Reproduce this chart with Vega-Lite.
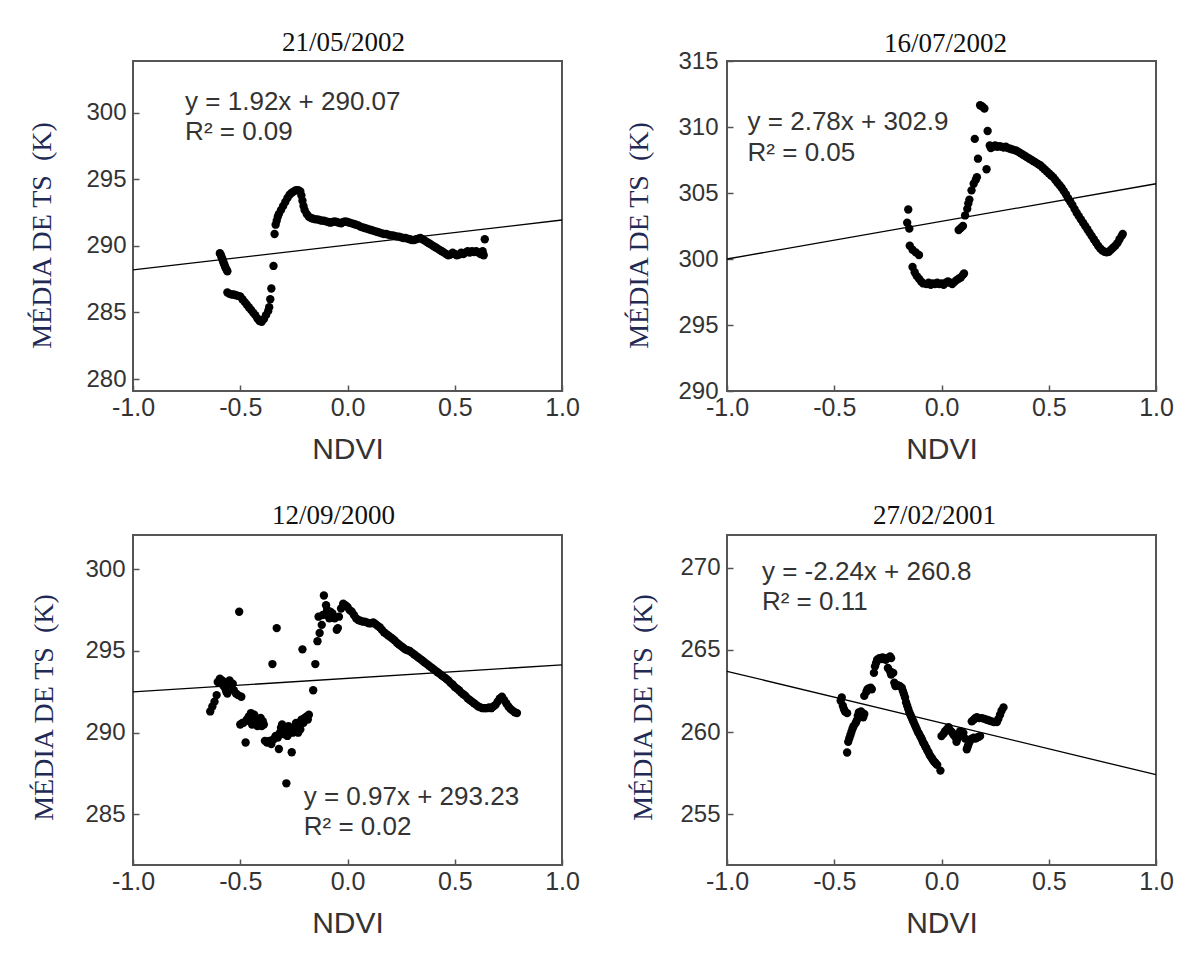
{
"$schema": "https://vega.github.io/schema/vega-lite/v6.json",
"background": "white",
"padding": {"left": 27, "top": 27, "right": 5, "bottom": 5},
"config": {
  "view": {"stroke": "#555", "strokeWidth": 2},
  "axis": {"domain": false, "grid": false, "ticks": true, "tickSize": -6, "tickColor": "#555", "tickWidth": 1.5, "labelFont": "Liberation Sans", "labelFontSize": 24, "labelColor": "#333", "labelPadding": 13, "labelFlush": false, "labelOverlap": false, "titleFontWeight": "normal"},
  "title": {"font": "Liberation Serif", "fontSize": 27, "fontWeight": "normal", "color": "#111", "frame": "group", "baseline": "alphabetic", "offset": 8, "anchor": "middle"}
},
"datasets": {
  "l1": [{"x": -1, "y": 288.2}, {"x": 1, "y": 291.95}],
  "l2": [{"x": -1, "y": 300.0}, {"x": 1, "y": 305.7}],
  "l3": [{"x": -1, "y": 292.5}, {"x": 1, "y": 294.15}],
  "l4": [{"x": -1, "y": 263.7}, {"x": 1, "y": 257.4}],
  "a1": [{"x": -0.757, "y": 300.2, "t": "y = 1.92x + 290.07"}, {"x": -0.757, "y": 297.94, "t": "R² = 0.09"}],
  "a2": [{"x": -0.904, "y": 309.8, "t": "y = 2.78x + 302.9"}, {"x": -0.904, "y": 307.46, "t": "R² = 0.05"}],
  "a3": [{"x": -0.204, "y": 285.6, "t": "y = 0.97x + 293.23"}, {"x": -0.204, "y": 283.74, "t": "R² = 0.02"}],
  "a4": [{"x": -0.837, "y": 269.25, "t": "y = -2.24x + 260.8"}, {"x": -0.837, "y": 267.43, "t": "R² = 0.11"}],
  "p1": [
{"x":-0.595,"y":289.45},{"x":-0.59,"y":289.3},{"x":-0.587,"y":289.15},{"x":-0.583,"y":289.0},{"x":-0.58,"y":288.85},{"x":-0.577,"y":288.7},{"x":-0.573,"y":288.55},{"x":-0.57,"y":288.4},{"x":-0.565,"y":288.25},{"x":-0.56,"y":288.1},
{"x":-0.56,"y":286.5},{"x":-0.55,"y":286.4},{"x":-0.54,"y":286.35},{"x":-0.53,"y":286.35},{"x":-0.52,"y":286.3},{"x":-0.51,"y":286.25},{"x":-0.5,"y":286.2},{"x":-0.49,"y":286.0},{"x":-0.48,"y":285.8},{"x":-0.47,"y":285.6},{"x":-0.46,"y":285.4},{"x":-0.45,"y":285.2},{"x":-0.44,"y":285.0},{"x":-0.43,"y":284.8},{"x":-0.42,"y":284.55},{"x":-0.41,"y":284.35},{"x":-0.4,"y":284.3},{"x":-0.39,"y":284.5},{"x":-0.38,"y":284.8},{"x":-0.37,"y":285.1},{"x":-0.365,"y":285.4},
{"x":-0.36,"y":286.0},{"x":-0.355,"y":286.8},{"x":-0.345,"y":288.5},{"x":-0.34,"y":290.9},
{"x":-0.335,"y":291.6},{"x":-0.33,"y":291.9},{"x":-0.325,"y":292.2},{"x":-0.32,"y":292.4},{"x":-0.31,"y":292.7},{"x":-0.3,"y":293.0},{"x":-0.29,"y":293.3},{"x":-0.28,"y":293.6},{"x":-0.27,"y":293.85},{"x":-0.26,"y":294.0},{"x":-0.25,"y":294.1},{"x":-0.24,"y":294.2},{"x":-0.23,"y":294.2},{"x":-0.22,"y":294.1},{"x":-0.215,"y":293.8},{"x":-0.21,"y":293.4},{"x":-0.205,"y":293.0},{"x":-0.2,"y":292.7},{"x":-0.19,"y":292.4},{"x":-0.18,"y":292.2},{"x":-0.17,"y":292.1},{"x":-0.16,"y":292.05},{"x":-0.15,"y":292.0},{"x":-0.14,"y":292.0},{"x":-0.13,"y":291.95},{"x":-0.12,"y":291.9},{"x":-0.11,"y":291.9},{"x":-0.1,"y":291.85},{"x":-0.09,"y":291.8},{"x":-0.08,"y":291.75},{"x":-0.07,"y":291.8},{"x":-0.06,"y":291.85},{"x":-0.05,"y":291.8},{"x":-0.04,"y":291.75},{"x":-0.03,"y":291.7},{"x":-0.02,"y":291.8},{"x":-0.01,"y":291.85},{"x":0.0,"y":291.8},{"x":0.01,"y":291.75},{"x":0.02,"y":291.7},{"x":0.03,"y":291.65},{"x":0.04,"y":291.6},{"x":0.05,"y":291.55},{"x":0.06,"y":291.45},{"x":0.07,"y":291.4},{"x":0.08,"y":291.35},{"x":0.09,"y":291.3},{"x":0.1,"y":291.25},{"x":0.11,"y":291.2},{"x":0.12,"y":291.15},{"x":0.13,"y":291.1},{"x":0.14,"y":291.05},{"x":0.15,"y":291.0},{"x":0.16,"y":290.95},{"x":0.17,"y":290.9},{"x":0.18,"y":290.9},{"x":0.19,"y":290.85},{"x":0.2,"y":290.8},{"x":0.21,"y":290.8},{"x":0.22,"y":290.75},{"x":0.23,"y":290.7},{"x":0.24,"y":290.7},{"x":0.25,"y":290.65},{"x":0.26,"y":290.6},{"x":0.27,"y":290.6},{"x":0.28,"y":290.55},{"x":0.29,"y":290.5},{"x":0.3,"y":290.45},{"x":0.31,"y":290.45},{"x":0.32,"y":290.5},{"x":0.33,"y":290.55},{"x":0.34,"y":290.6},{"x":0.35,"y":290.5},{"x":0.36,"y":290.4},{"x":0.37,"y":290.3},{"x":0.38,"y":290.2},{"x":0.39,"y":290.1},{"x":0.4,"y":290.0},{"x":0.41,"y":289.9},{"x":0.42,"y":289.8},{"x":0.43,"y":289.7},{"x":0.44,"y":289.6},{"x":0.45,"y":289.5},{"x":0.46,"y":289.4},{"x":0.47,"y":289.3},{"x":0.48,"y":289.35},{"x":0.49,"y":289.5},{"x":0.5,"y":289.4},{"x":0.51,"y":289.3},{"x":0.52,"y":289.35},{"x":0.53,"y":289.5},{"x":0.54,"y":289.4},{"x":0.55,"y":289.5},{"x":0.56,"y":289.6},{"x":0.57,"y":289.5},{"x":0.58,"y":289.6},{"x":0.59,"y":289.55},{"x":0.6,"y":289.6},{"x":0.61,"y":289.5},{"x":0.62,"y":289.4},{"x":0.63,"y":289.6},{"x":0.635,"y":289.3},{"x":0.64,"y":290.5}
  ],
  "p2": [
{"x":-0.155,"y":303.75},{"x":-0.16,"y":302.75},{"x":-0.15,"y":302.3},{"x":-0.148,"y":301.0},{"x":-0.135,"y":300.7},{"x":-0.12,"y":300.5},{"x":-0.105,"y":300.3},{"x":-0.135,"y":299.4},{"x":-0.125,"y":299.0},{"x":-0.115,"y":298.7},{"x":-0.105,"y":298.5},{"x":-0.095,"y":298.3},{"x":-0.085,"y":298.15},{"x":-0.07,"y":298.1},{"x":-0.06,"y":298.2},{"x":-0.05,"y":298.05},{"x":-0.04,"y":298.15},{"x":-0.03,"y":298.1},{"x":-0.02,"y":298.2},{"x":-0.01,"y":298.1},{"x":0.0,"y":298.15},{"x":0.01,"y":298.05},{"x":0.02,"y":298.2},{"x":0.03,"y":298.3},{"x":0.04,"y":298.2},{"x":0.05,"y":298.1},{"x":0.06,"y":298.25},{"x":0.07,"y":298.4},{"x":0.08,"y":298.5},{"x":0.09,"y":298.6},{"x":0.1,"y":298.8},{"x":0.105,"y":298.9},
{"x":0.08,"y":302.2},{"x":0.09,"y":302.35},{"x":0.1,"y":302.5},{"x":0.11,"y":303.3},{"x":0.12,"y":303.8},{"x":0.125,"y":304.2},{"x":0.13,"y":304.5},{"x":0.14,"y":305.2},{"x":0.15,"y":305.7},{"x":0.16,"y":306.0},{"x":0.165,"y":306.2},{"x":0.17,"y":307.6},{"x":0.155,"y":309.1},{"x":0.18,"y":311.65},{"x":0.19,"y":311.55},{"x":0.2,"y":311.4},{"x":0.21,"y":306.8},{"x":0.215,"y":309.7},
{"x":0.225,"y":308.6},{"x":0.23,"y":308.4},{"x":0.24,"y":308.5},{"x":0.25,"y":308.6},{"x":0.26,"y":308.5},{"x":0.27,"y":308.55},{"x":0.28,"y":308.5},{"x":0.29,"y":308.45},{"x":0.3,"y":308.5},{"x":0.31,"y":308.4},{"x":0.32,"y":308.35},{"x":0.33,"y":308.3},{"x":0.34,"y":308.25},{"x":0.35,"y":308.2},{"x":0.36,"y":308.1},{"x":0.37,"y":308.0},{"x":0.38,"y":307.9},{"x":0.39,"y":307.8},{"x":0.4,"y":307.7},{"x":0.41,"y":307.6},{"x":0.42,"y":307.5},{"x":0.43,"y":307.4},{"x":0.44,"y":307.3},{"x":0.45,"y":307.2},{"x":0.46,"y":307.1},{"x":0.47,"y":306.95},{"x":0.48,"y":306.8},{"x":0.49,"y":306.65},{"x":0.5,"y":306.5},{"x":0.51,"y":306.35},{"x":0.52,"y":306.2},{"x":0.53,"y":306.0},{"x":0.54,"y":305.8},{"x":0.55,"y":305.6},{"x":0.56,"y":305.4},{"x":0.57,"y":305.15},{"x":0.58,"y":304.9},{"x":0.59,"y":304.6},{"x":0.6,"y":304.35},{"x":0.61,"y":304.1},{"x":0.62,"y":303.8},{"x":0.63,"y":303.5},{"x":0.64,"y":303.25},{"x":0.65,"y":303.0},{"x":0.66,"y":302.75},{"x":0.67,"y":302.5},{"x":0.68,"y":302.25},{"x":0.69,"y":302.0},{"x":0.7,"y":301.75},{"x":0.71,"y":301.5},{"x":0.72,"y":301.25},{"x":0.73,"y":301.0},{"x":0.74,"y":300.8},{"x":0.75,"y":300.65},{"x":0.76,"y":300.55},{"x":0.77,"y":300.5},{"x":0.78,"y":300.55},{"x":0.79,"y":300.7},{"x":0.8,"y":300.85},{"x":0.81,"y":301.0},{"x":0.82,"y":301.2},{"x":0.83,"y":301.5},{"x":0.84,"y":301.75},{"x":0.845,"y":301.9}
  ],
  "p3": [
{"x":-0.64,"y":291.3},{"x":-0.63,"y":291.6},{"x":-0.62,"y":291.9},{"x":-0.61,"y":292.3},{"x":-0.605,"y":293.1},{"x":-0.595,"y":293.3},{"x":-0.585,"y":293.2},{"x":-0.58,"y":292.9},{"x":-0.575,"y":293.1},{"x":-0.57,"y":292.7},{"x":-0.565,"y":292.5},{"x":-0.56,"y":292.4},{"x":-0.55,"y":293.2},{"x":-0.545,"y":292.9},{"x":-0.535,"y":293.0},{"x":-0.53,"y":292.6},{"x":-0.52,"y":292.4},{"x":-0.51,"y":292.3},{"x":-0.505,"y":297.4},{"x":-0.495,"y":292.2},{"x":-0.49,"y":290.6},
{"x":-0.5,"y":290.5},{"x":-0.485,"y":290.6},{"x":-0.475,"y":289.4},{"x":-0.47,"y":290.8},{"x":-0.46,"y":291.0},{"x":-0.455,"y":290.7},{"x":-0.45,"y":291.2},{"x":-0.445,"y":290.5},{"x":-0.44,"y":290.9},{"x":-0.435,"y":291.1},{"x":-0.43,"y":290.6},{"x":-0.425,"y":290.8},{"x":-0.42,"y":290.4},{"x":-0.41,"y":290.5},{"x":-0.405,"y":290.9},{"x":-0.4,"y":290.4},{"x":-0.395,"y":290.7},{"x":-0.39,"y":290.5},{"x":-0.385,"y":289.5},{"x":-0.375,"y":289.4},{"x":-0.365,"y":289.5},{"x":-0.355,"y":289.3},{"x":-0.35,"y":294.2},{"x":-0.345,"y":289.6},{"x":-0.335,"y":289.8},{"x":-0.33,"y":296.4},{"x":-0.325,"y":289.7},{"x":-0.32,"y":289.0},{"x":-0.315,"y":290.0},{"x":-0.31,"y":290.3},{"x":-0.305,"y":290.5},{"x":-0.3,"y":290.1},{"x":-0.295,"y":289.9},{"x":-0.29,"y":290.3},{"x":-0.285,"y":286.9},{"x":-0.28,"y":289.8},{"x":-0.275,"y":290.4},{"x":-0.27,"y":290.0},{"x":-0.265,"y":290.2},{"x":-0.26,"y":288.8},{"x":-0.255,"y":290.0},{"x":-0.25,"y":290.3},{"x":-0.245,"y":290.1},{"x":-0.24,"y":290.6},{"x":-0.235,"y":290.3},{"x":-0.23,"y":290.0},{"x":-0.225,"y":290.5},{"x":-0.22,"y":290.2},{"x":-0.215,"y":290.8},{"x":-0.21,"y":295.1},{"x":-0.205,"y":290.6},{"x":-0.2,"y":290.9},{"x":-0.19,"y":291.0},{"x":-0.185,"y":290.8},{"x":-0.18,"y":291.1},
{"x":-0.16,"y":292.6},{"x":-0.15,"y":294.2},{"x":-0.14,"y":295.6},{"x":-0.13,"y":296.1},{"x":-0.135,"y":297.1},{"x":-0.12,"y":296.6},{"x":-0.115,"y":297.2},{"x":-0.11,"y":298.4},{"x":-0.1,"y":297.8},{"x":-0.095,"y":297.5},{"x":-0.09,"y":297.3},{"x":-0.085,"y":297.0},{"x":-0.08,"y":297.4},{"x":-0.07,"y":297.3},{"x":-0.06,"y":297.0},{"x":-0.05,"y":296.3},{"x":-0.045,"y":296.4},{"x":-0.04,"y":297.1},{"x":-0.03,"y":297.6},{"x":-0.02,"y":297.9},{"x":-0.01,"y":297.8},{"x":0.0,"y":297.7},
{"x":0.01,"y":297.5},{"x":0.02,"y":297.4},{"x":0.03,"y":297.2},{"x":0.04,"y":297.0},{"x":0.05,"y":296.9},{"x":0.06,"y":296.85},{"x":0.07,"y":296.8},{"x":0.08,"y":296.8},{"x":0.09,"y":296.75},{"x":0.1,"y":296.7},{"x":0.11,"y":296.7},{"x":0.12,"y":296.75},{"x":0.13,"y":296.65},{"x":0.14,"y":296.55},{"x":0.15,"y":296.45},{"x":0.16,"y":296.3},{"x":0.17,"y":296.15},{"x":0.18,"y":296.05},{"x":0.19,"y":295.95},{"x":0.2,"y":295.85},{"x":0.21,"y":295.75},{"x":0.22,"y":295.65},{"x":0.23,"y":295.5},{"x":0.24,"y":295.4},{"x":0.25,"y":295.3},{"x":0.26,"y":295.2},{"x":0.27,"y":295.1},{"x":0.28,"y":295.05},{"x":0.29,"y":295.0},{"x":0.3,"y":294.9},{"x":0.31,"y":294.8},{"x":0.32,"y":294.7},{"x":0.33,"y":294.6},{"x":0.34,"y":294.5},{"x":0.35,"y":294.4},{"x":0.36,"y":294.3},{"x":0.37,"y":294.2},{"x":0.38,"y":294.1},{"x":0.39,"y":294.0},{"x":0.4,"y":293.9},{"x":0.41,"y":293.8},{"x":0.42,"y":293.7},{"x":0.43,"y":293.6},{"x":0.44,"y":293.5},{"x":0.45,"y":293.4},{"x":0.46,"y":293.3},{"x":0.47,"y":293.2},{"x":0.48,"y":293.05},{"x":0.49,"y":292.95},{"x":0.5,"y":292.8},{"x":0.51,"y":292.7},{"x":0.52,"y":292.6},{"x":0.53,"y":292.45},{"x":0.54,"y":292.35},{"x":0.55,"y":292.25},{"x":0.56,"y":292.1},{"x":0.57,"y":292.0},{"x":0.58,"y":291.9},{"x":0.59,"y":291.8},{"x":0.6,"y":291.7},{"x":0.61,"y":291.6},{"x":0.62,"y":291.55},{"x":0.63,"y":291.5},{"x":0.64,"y":291.5},{"x":0.65,"y":291.5},{"x":0.66,"y":291.55},{"x":0.67,"y":291.5},{"x":0.68,"y":291.6},{"x":0.69,"y":291.7},{"x":0.7,"y":291.9},{"x":0.71,"y":292.1},{"x":0.72,"y":292.2},{"x":0.73,"y":292.0},{"x":0.74,"y":291.8},{"x":0.75,"y":291.6},{"x":0.76,"y":291.45},{"x":0.77,"y":291.35},{"x":0.78,"y":291.25},{"x":0.79,"y":291.2}
  ],
  "p4": [
{"x":-0.47,"y":261.9},{"x":-0.465,"y":262.1},{"x":-0.46,"y":261.6},{"x":-0.455,"y":261.4},{"x":-0.45,"y":261.25},{"x":-0.44,"y":261.15},
{"x":-0.44,"y":258.75},{"x":-0.435,"y":259.4},{"x":-0.43,"y":259.6},{"x":-0.425,"y":259.8},{"x":-0.42,"y":260.0},{"x":-0.415,"y":260.2},{"x":-0.41,"y":260.35},{"x":-0.4,"y":260.55},{"x":-0.395,"y":260.7},{"x":-0.39,"y":261.0},{"x":-0.385,"y":261.2},{"x":-0.38,"y":261.1},{"x":-0.375,"y":261.25},{"x":-0.37,"y":261.0},{"x":-0.365,"y":260.9},{"x":-0.36,"y":261.1},
{"x":-0.36,"y":262.2},{"x":-0.35,"y":262.45},{"x":-0.345,"y":262.6},{"x":-0.34,"y":262.65},{"x":-0.33,"y":262.7},{"x":-0.325,"y":262.6},
{"x":-0.315,"y":263.6},{"x":-0.31,"y":264.0},{"x":-0.305,"y":264.2},{"x":-0.3,"y":264.4},{"x":-0.29,"y":264.5},{"x":-0.28,"y":264.45},{"x":-0.275,"y":264.55},{"x":-0.27,"y":264.5},{"x":-0.26,"y":264.4},{"x":-0.255,"y":264.5},{"x":-0.25,"y":264.5},{"x":-0.24,"y":264.6},{"x":-0.235,"y":264.5},{"x":-0.25,"y":263.9},{"x":-0.24,"y":263.7},{"x":-0.235,"y":263.5},{"x":-0.225,"y":263.6},
{"x":-0.22,"y":263.0},{"x":-0.215,"y":262.8},{"x":-0.205,"y":262.85},{"x":-0.195,"y":262.8},{"x":-0.185,"y":262.7},{"x":-0.18,"y":262.5},{"x":-0.175,"y":262.3},{"x":-0.17,"y":262.1},{"x":-0.165,"y":261.8},{"x":-0.16,"y":261.6},{"x":-0.155,"y":261.4},{"x":-0.15,"y":261.2},{"x":-0.145,"y":261.05},{"x":-0.14,"y":260.9},{"x":-0.135,"y":260.75},{"x":-0.13,"y":260.6},{"x":-0.125,"y":260.45},{"x":-0.12,"y":260.3},{"x":-0.115,"y":260.15},{"x":-0.11,"y":260.0},{"x":-0.105,"y":259.9},{"x":-0.1,"y":259.75},{"x":-0.095,"y":259.65},{"x":-0.09,"y":259.5},{"x":-0.085,"y":259.35},{"x":-0.08,"y":259.25},{"x":-0.075,"y":259.1},{"x":-0.07,"y":259.0},{"x":-0.065,"y":258.85},{"x":-0.06,"y":258.75},{"x":-0.055,"y":258.6},{"x":-0.05,"y":258.5},{"x":-0.045,"y":258.4},{"x":-0.04,"y":258.3},{"x":-0.035,"y":258.2},{"x":-0.03,"y":258.15},{"x":-0.025,"y":258.05},{"x":-0.02,"y":258.0},{"x":-0.005,"y":257.65},
{"x":0.0,"y":259.75},{"x":0.01,"y":259.9},{"x":0.017,"y":260.05},{"x":0.025,"y":260.15},{"x":0.033,"y":260.3},{"x":0.04,"y":260.1},{"x":0.048,"y":260.0},{"x":0.055,"y":259.85},{"x":0.064,"y":259.7},{"x":0.07,"y":259.4},{"x":0.075,"y":259.6},{"x":0.08,"y":259.9},{"x":0.087,"y":260.05},{"x":0.095,"y":260.0},{"x":0.102,"y":259.95},{"x":0.11,"y":259.6},{"x":0.118,"y":258.95},{"x":0.122,"y":259.1},{"x":0.126,"y":259.25},{"x":0.133,"y":259.45},{"x":0.141,"y":259.6},{"x":0.15,"y":259.65},{"x":0.158,"y":259.6},{"x":0.165,"y":259.65},{"x":0.172,"y":259.7},{"x":0.18,"y":259.75},
{"x":0.141,"y":260.65},{"x":0.15,"y":260.75},{"x":0.158,"y":260.85},{"x":0.165,"y":260.9},{"x":0.175,"y":260.85},{"x":0.188,"y":260.85},{"x":0.2,"y":260.8},{"x":0.211,"y":260.75},{"x":0.222,"y":260.7},{"x":0.234,"y":260.65},{"x":0.245,"y":260.6},{"x":0.258,"y":260.6},{"x":0.265,"y":260.8},{"x":0.273,"y":261.05},{"x":0.28,"y":261.3},{"x":0.289,"y":261.5}
  ]
},
"columns": 2,
"spacing": {"row": 144, "column": 165},
"bounds": "flush",
"concat": [
  {
    "width": 429, "height": 330,
    "title": {"text": "21/05/2002", "dx": -4, "offset": 4.5},
    "encoding": {
      "x": {"field": "x", "type": "quantitative", "scale": {"domain": [-1, 1], "nice": false, "zero": false},
            "axis": {"title": "NDVI", "titleFont": "Liberation Sans", "titleFontSize": 30, "titleColor": "#333", "titlePadding": 14, "values": [-1, -0.5, 0, 0.5, 1], "labelFontSize": 25, "labelPadding": 10, "labelExpr": "replace(format(datum.value, '.1f'), '\u2212', '-')"}},
      "y": {"field": "y", "type": "quantitative", "scale": {"domain": [279.1, 303.9], "nice": false, "zero": false},
            "axis": {"title": "MÉDIA DE TS\u00a0 (K)", "titleFont": "Liberation Serif", "titleFontSize": 28, "titleColor": "#1f2a55", "titlePadding": 29, "titleY": 174, "values": [280, 285, 290, 295, 300], "labelPadding": 13}}
    },
    "layer": [
      {"data": {"name": "l1"}, "mark": {"type": "line", "color": "black", "strokeWidth": 1.3}},
      {"data": {"name": "p1"}, "mark": {"type": "circle", "size": 70, "color": "black", "opacity": 1}},
      {"data": {"name": "a1"}, "mark": {"type": "text", "align": "left", "baseline": "alphabetic", "font": "Liberation Sans", "fontSize": 26, "color": "#333"}, "encoding": {"text": {"field": "t"}}}
    ]
  },
  {
    "width": 429, "height": 330,
    "title": {"text": "16/07/2002", "dx": 4, "offset": -8.5},
    "encoding": {
      "x": {"field": "x", "type": "quantitative", "scale": {"domain": [-1, 1], "nice": false, "zero": false},
            "axis": {"title": "NDVI", "titleFont": "Liberation Sans", "titleFontSize": 30, "titleColor": "#333", "titlePadding": 14, "values": [-1, -0.5, 0, 0.5, 1], "labelFontSize": 25, "labelPadding": 10, "labelExpr": "replace(format(datum.value, '.1f'), '\u2212', '-')"}},
      "y": {"field": "y", "type": "quantitative", "scale": {"domain": [290, 315], "nice": false, "zero": false},
            "axis": {"title": "MÉDIA DE TS\u00a0 (K)", "titleFont": "Liberation Serif", "titleFontSize": 28, "titleColor": "#1f2a55", "titlePadding": 24, "titleY": 174, "values": [290, 295, 300, 305, 310, 315], "labelPadding": 15}}
    },
    "layer": [
      {"data": {"name": "l2"}, "mark": {"type": "line", "color": "black", "strokeWidth": 1.3}},
      {"data": {"name": "p2"}, "mark": {"type": "circle", "size": 70, "color": "black", "opacity": 1}},
      {"data": {"name": "a2"}, "mark": {"type": "text", "align": "left", "baseline": "alphabetic", "font": "Liberation Sans", "fontSize": 26, "color": "#333"}, "encoding": {"text": {"field": "t"}}}
    ]
  },
  {
    "width": 429, "height": 330,
    "title": {"text": "12/09/2000", "dx": -14, "offset": 5.5},
    "encoding": {
      "x": {"field": "x", "type": "quantitative", "scale": {"domain": [-1, 1], "nice": false, "zero": false},
            "axis": {"title": "NDVI", "titleFont": "Liberation Sans", "titleFontSize": 30, "titleColor": "#333", "titlePadding": 14, "values": [-1, -0.5, 0, 0.5, 1], "labelFontSize": 25, "labelPadding": 10, "labelExpr": "replace(format(datum.value, '.1f'), '\u2212', '-')"}},
      "y": {"field": "y", "type": "quantitative", "scale": {"domain": [281.9, 302.1], "nice": false, "zero": false},
            "axis": {"title": "MÉDIA DE TS\u00a0 (K)", "titleFont": "Liberation Serif", "titleFontSize": 28, "titleColor": "#1f2a55", "titlePadding": 26, "titleY": 172, "values": [285, 290, 295, 300], "labelPadding": 14}}
    },
    "layer": [
      {"data": {"name": "l3"}, "mark": {"type": "line", "color": "black", "strokeWidth": 1.3}},
      {"data": {"name": "p3"}, "mark": {"type": "circle", "size": 70, "color": "black", "opacity": 1}},
      {"data": {"name": "a3"}, "mark": {"type": "text", "align": "left", "baseline": "alphabetic", "font": "Liberation Sans", "fontSize": 26, "color": "#333"}, "encoding": {"text": {"field": "t"}}}
    ]
  },
  {
    "width": 429, "height": 330,
    "title": {"text": "27/02/2001", "dx": -7, "offset": 5},
    "encoding": {
      "x": {"field": "x", "type": "quantitative", "scale": {"domain": [-1, 1], "nice": false, "zero": false},
            "axis": {"title": "NDVI", "titleFont": "Liberation Sans", "titleFontSize": 30, "titleColor": "#333", "titlePadding": 14, "values": [-1, -0.5, 0, 0.5, 1], "labelFontSize": 25, "labelPadding": 10, "labelExpr": "replace(format(datum.value, '.1f'), '\u2212', '-')"}},
      "y": {"field": "y", "type": "quantitative", "scale": {"domain": [251.9, 272.0], "nice": false, "zero": false},
            "axis": {"title": "MÉDIA DE TS\u00a0 (K)", "titleFont": "Liberation Serif", "titleFontSize": 28, "titleColor": "#1f2a55", "titlePadding": 22, "titleY": 172, "values": [255, 260, 265, 270], "labelPadding": 13}}
    },
    "layer": [
      {"data": {"name": "l4"}, "mark": {"type": "line", "color": "black", "strokeWidth": 1.3}},
      {"data": {"name": "p4"}, "mark": {"type": "circle", "size": 70, "color": "black", "opacity": 1}},
      {"data": {"name": "a4"}, "mark": {"type": "text", "align": "left", "baseline": "alphabetic", "font": "Liberation Sans", "fontSize": 26, "color": "#333"}, "encoding": {"text": {"field": "t"}}}
    ]
  }
]
}
